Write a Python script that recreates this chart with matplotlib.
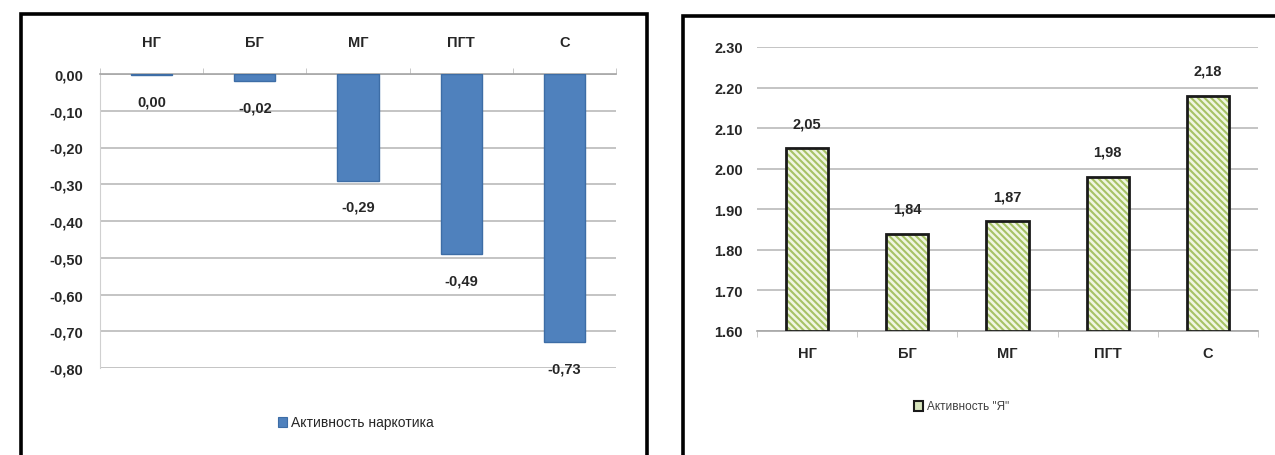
import matplotlib
matplotlib.use("Agg")
import matplotlib.pyplot as plt
from matplotlib.patches import Rectangle
import numpy as np

plt.rcParams['font.family'] = ['Liberation Sans', 'DejaVu Sans']
plt.rcParams['hatch.linewidth'] = 1.5

categories = ["НГ", "БГ", "МГ", "ПГТ", "С"]
drug_activity = [-0.004, -0.02, -0.29, -0.49, -0.73]
drug_labels = ["0,00", "-0,02", "-0,29", "-0,49", "-0,73"]
self_activity = [2.05, 1.84, 1.87, 1.98, 2.18]
self_labels = ["2,05", "1,84", "1,87", "1,98", "2,18"]
left_yticks = [0.0, -0.1, -0.2, -0.3, -0.4, -0.5, -0.6, -0.7, -0.8]
left_yticklabels = ["0,00", "-0,10", "-0,20", "-0,30", "-0,40", "-0,50", "-0,60", "-0,70", "-0,80"]
right_yticks = [1.6, 1.7, 1.8, 1.9, 2.0, 2.1, 2.2, 2.3]
right_yticklabels = ["1.60", "1.70", "1.80", "1.90", "2.00", "2.10", "2.20", "2.30"]
legend_left = "Активность наркотика"
legend_right = 'Активность "Я"'

W, H = 1275, 456
fig = plt.figure(figsize=(W / 100, H / 100), dpi=100)
fig.patch.set_facecolor('white')

def frect(x0, y0, x1, y1):
    return [x0 / W, 1 - y1 / H, (x1 - x0) / W, (y1 - y0) / H]

TXT = '#262626'
GRID = '#c4c4c4'

# Outer boxes
for (x0, y0, x1, y1) in [(21, 15, 647, 480), (683, 17, 1300, 480)]:
    fig.patches.append(Rectangle((x0 / W, 1 - y1 / H), (x1 - x0) / W, (y1 - y0) / H,
                                 transform=fig.transFigure, fill=False,
                                 edgecolor='black', linewidth=2.6, zorder=0))

x = np.arange(len(categories))

# ---------------- Left chart ----------------
ax1 = fig.add_axes(frect(100, 75, 616, 369))
ax1.bar(x, drug_activity, width=0.4, color='#4f81bd', edgecolor='#3d6da6',
        linewidth=1.0, zorder=3)
ax1.set_xlim(-0.5, len(categories) - 0.5)
ax1.set_ylim(-0.8, 0.0)
ax1.set_yticks(left_yticks)
ax1.set_yticklabels(left_yticklabels)
ax1.yaxis.grid(True, color=GRID, linewidth=1.4, zorder=0)
ax1.set_axisbelow(True)
for s in ['right', 'bottom']:
    ax1.spines[s].set_visible(False)
ax1.spines['left'].set_color('#d0d0d0')
ax1.spines['top'].set_color('#a6a6a6')
ax1.spines['top'].set_linewidth(1.2)
ax1.tick_params(axis='y', length=0, pad=12, labelsize=10.5, labelcolor=TXT)
ax1.xaxis.tick_top()
ax1.set_xticks(x)
ax1.set_xticklabels(categories)
ax1.tick_params(axis='x', which='major', length=0, pad=18, labelsize=10.5, labelcolor=TXT)
ax1.set_xticks(np.arange(-0.5, len(categories) + 0.5, 1.0), minor=True)
ax1.tick_params(axis='x', which='minor', length=4, color='#bfbfbf', direction='out')
for xi, v, lab in zip(x, drug_activity, drug_labels):
    ax1.annotate(lab, (xi, v), xytext=(0, -19), textcoords='offset points',
                 ha='center', va='center', fontsize=10.5, color=TXT,
                 fontweight='bold', annotation_clip=False)
for t in ax1.get_xticklabels() + ax1.get_yticklabels():
    t.set_fontweight('bold')

# Left legend
lx, ly = 282, 423
fig.patches.append(Rectangle(((lx - 4) / W, 1 - (ly + 5) / H), 9 / W, 10 / H,
                             transform=fig.transFigure, facecolor='#4f81bd',
                             edgecolor='#3d6da6', linewidth=0.8))
fig.text((lx + 9) / W, 1 - ly / H, legend_left, ha='left', va='center',
         fontsize=10, color=TXT)

# ---------------- Right chart ----------------
heights = [v - 1.6 for v in self_activity]
ax2 = fig.add_axes(frect(757, 48, 1258, 332))
ax2.bar(x, heights, bottom=1.6, width=0.42, facecolor='#f0f6e2',
        linewidth=0, zorder=3)
ax2.bar(x, heights, bottom=1.6, width=0.42, facecolor='none',
        edgecolor='#a6c266', hatch='\\\\\\\\\\', linewidth=0, zorder=4)
ax2.bar(x, heights, bottom=1.6, width=0.42, facecolor='none',
        edgecolor='#1a1a1a', linewidth=2.0, zorder=5)
ax2.set_xlim(-0.5, len(categories) - 0.5)
ax2.set_ylim(1.6, 2.3)
ax2.set_yticks(right_yticks)
ax2.set_yticklabels(right_yticklabels)
ax2.yaxis.grid(True, color=GRID, linewidth=1.4, zorder=0)
ax2.set_axisbelow(True)
for s in ['right', 'top', 'left']:
    ax2.spines[s].set_visible(False)
ax2.spines['bottom'].set_color('#a6a6a6')
ax2.spines['bottom'].set_linewidth(1.2)
ax2.tick_params(axis='y', length=0, pad=10, labelsize=10.5, labelcolor=TXT)
ax2.set_xticks(x)
ax2.set_xticklabels(categories)
ax2.tick_params(axis='x', which='major', length=0, pad=11, labelsize=10.5, labelcolor=TXT)
ax2.set_xticks(np.arange(-0.5, len(categories) + 0.5, 1.0), minor=True)
ax2.tick_params(axis='x', which='minor', length=4, color='#bfbfbf', direction='out')
for xi, v, lab in zip(x, self_activity, self_labels):
    ax2.annotate(lab, (xi, v), xytext=(0, 18), textcoords='offset points',
                 ha='center', va='center', fontsize=10.5, color=TXT,
                 fontweight='bold', annotation_clip=False)
for t in ax2.get_xticklabels() + ax2.get_yticklabels():
    t.set_fontweight('bold')

# Right legend
rx, ry = 918, 407
fig.patches.append(Rectangle(((rx - 4) / W, 1 - (ry + 5) / H), 9 / W, 10 / H,
                             transform=fig.transFigure, facecolor='#d7e4bc',
                             edgecolor='#1a1a1a', linewidth=1.5))
fig.text((rx + 9) / W, 1 - ry / H, legend_right, ha='left', va='center',
         fontsize=8.5, color='#404040')

fig.savefig('out.png', dpi=100, facecolor='white')
